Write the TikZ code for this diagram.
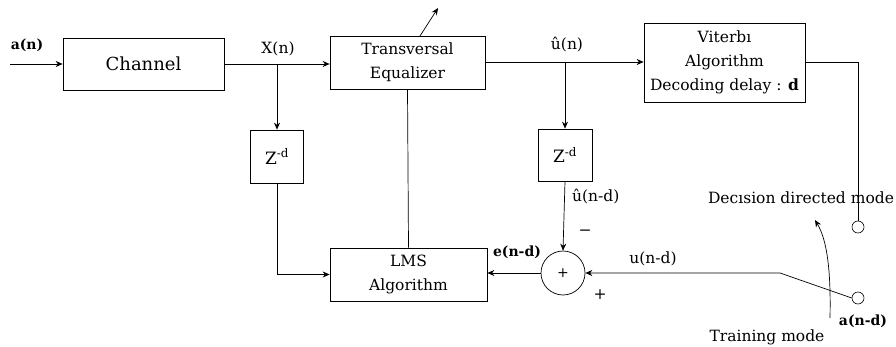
\documentclass[tikz,border=0pt]{standalone}
\usepackage{fontspec}
\setmainfont{DejaVu Serif}
\usetikzlibrary{arrows.meta}
\begin{document}
\begin{tikzpicture}[x=1pt,y=-1pt,
  font=\fontsize{15.5}{24}\selectfont,
  blk/.style={draw, line width=0.7pt, inner sep=0pt, align=center},
  conn/.style={line width=0.7pt},
  arr/.style={conn, -{Stealth[length=7pt,width=6pt]}},
  lbl/.style={inner sep=0pt},
  bl/.style={lbl, font=\fontsize{14}{24}\selectfont\bfseries},
  port/.style={draw, circle, line width=0.6pt, minimum size=12, inner sep=0pt}]
\useasboundingbox (0,0) rectangle (896,347);

\node[blk, minimum width=161, minimum height=52, font=\fontsize{18}{24}\selectfont] (ch) at (143.5,64) {Channel};
\node[blk, minimum width=155, minimum height=53] (eq) at (407.5,62.5) {Transversal\\Equalizer};
\node[blk, minimum width=161, minimum height=79] (vit) at (724.5,62.5) {Viterbı\\Algorithm\\Decoding delay : \textbf{d}};
\node[blk, minimum width=53, minimum height=53, font=\fontsize{17}{24}\selectfont] (zl) at (277,156.5) {Z\textsuperscript{-d}};
\node[blk, minimum width=54, minimum height=52, font=\fontsize{17}{24}\selectfont] (zr) at (565,155) {Z\textsuperscript{-d}};
\node[blk, minimum width=157, minimum height=53] (lms) at (408.5,274.5) {LMS\\Algorithm};
\node[draw, circle, line width=0.7pt, minimum size=44, inner sep=0pt, font=\fontsize{14}{14}\selectfont] (sum) at (563,273) {+};
\node[port] (c1) at (858,227) {};
\node[port] (c2) at (858,298) {};

\coordinate (in) at (10,64);
\coordinate (bx) at (277,64);
\coordinate (bu) at (565,62);
\coordinate (vo) at (858,62);
\coordinate (sw) at (780,273);
\coordinate (ad0) at (420,36);
\coordinate (ad1) at (438,8);
\coordinate (cv0) at (830,318);
\coordinate (cv1) at (815,220);

\draw[arr] (in) -- (ch.west);
\draw[arr] (ch.east) -- (ch.east -| eq.west);
\draw[arr] (bx) -- (zl.north);
\draw[arr] (zl.south) |- (lms.west);
\draw[conn] (eq.south) -- (lms.north);
\draw[arr] (eq.east |- bu) -- (vit.west |- bu);
\draw[arr] (bu) -- (zr.north);
\draw[arr] (zr.south) -- (sum.north);
\draw[arr] (sum.west) -- (sum.west -| lms.east);
\draw[conn] (vit.east |- vo) -- (vo) -- (c1.north);
\draw[arr] (c2.west) -- (sw) -- (sum.east);
\draw[arr] (ad0) -- (ad1);
\draw[arr] (cv0) .. controls (831,270) and (827,240) .. (cv1);

\node[bl] (la) at (27,45) {a(n)};
\node[lbl] (lx) at (278,49) {X(n)};
\node[lbl] (lu) at (567,45) {û(n)};
\node[bl] (le) at (517,252) {e(n-d)};
\node[lbl, anchor=west] (lud) at (572,197) {û(n-d)};
\node[lbl] (lm) at (585,233) {−};
\node[lbl] (lp) at (600,295) {+};
\node[lbl] (lun) at (653,259) {u(n-d)};
\node[lbl] (ldd) at (801,198) {Decısion directed mode};
\node[bl] (lad) at (863,321) {a(n-d)};
\node[lbl] (ltm) at (767,337) {Training mode};
\end{tikzpicture}
\end{document}
